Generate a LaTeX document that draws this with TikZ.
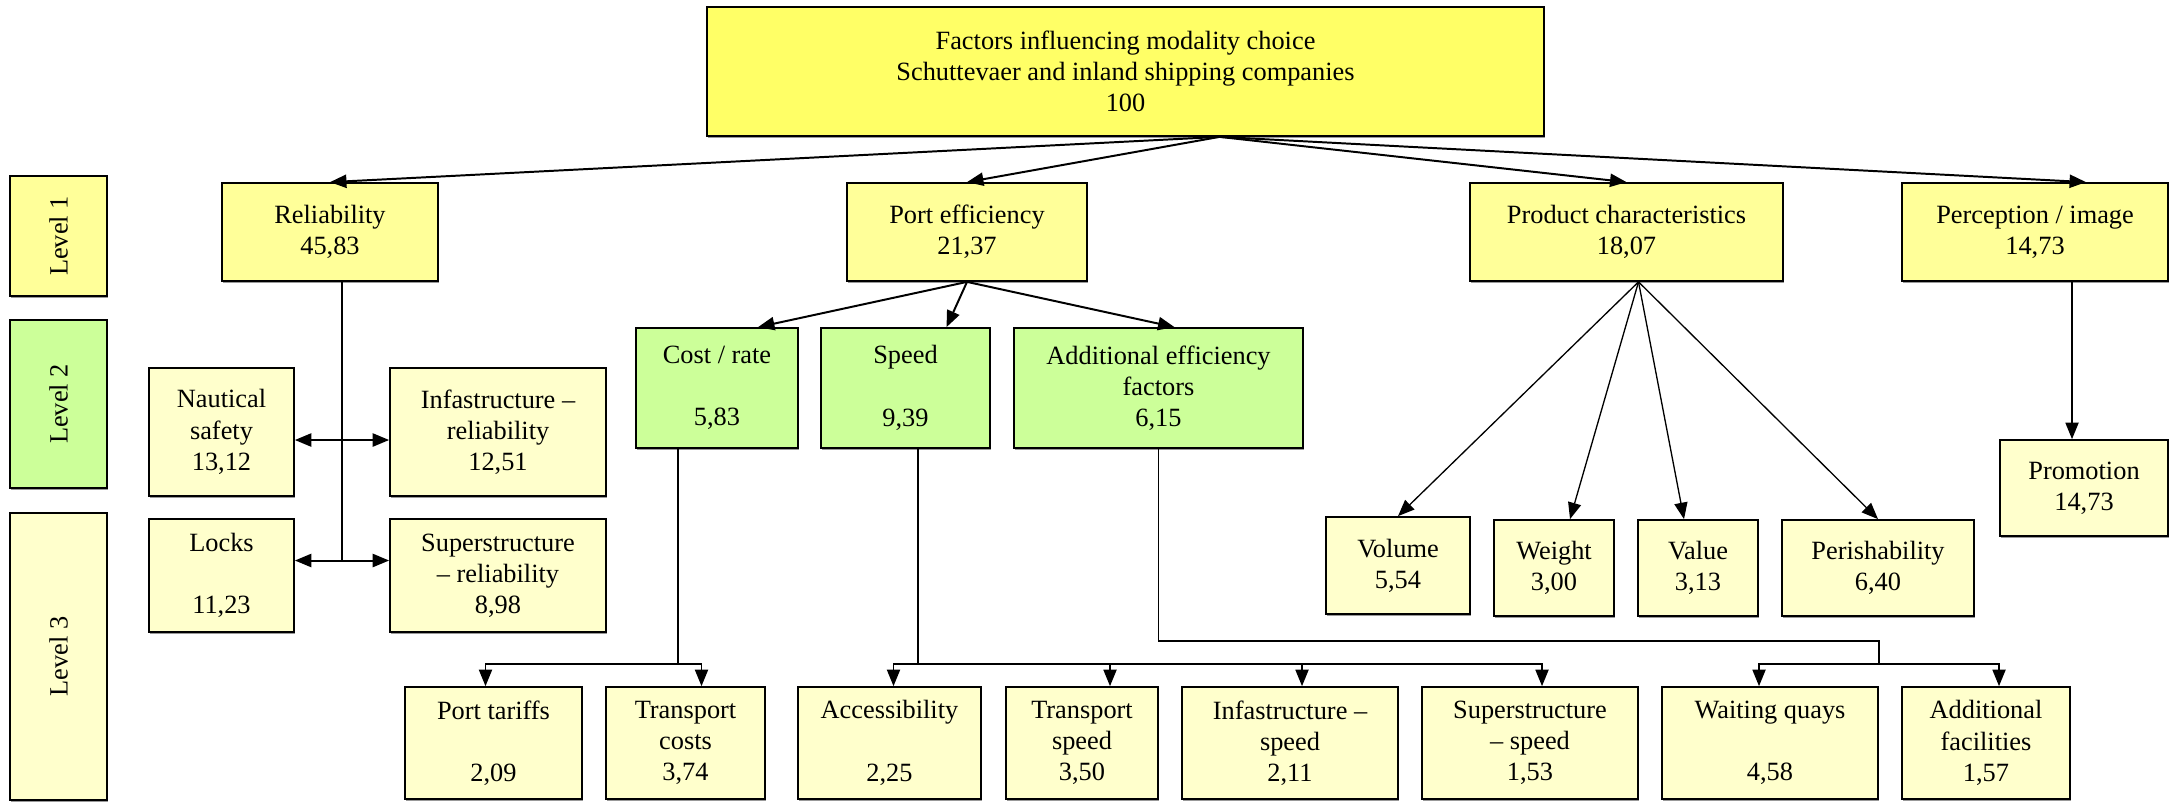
\documentclass[tikz,border=0pt]{standalone}
\usepackage{fontspec}
\setmainfont{Liberation Serif}
\usetikzlibrary{positioning,arrows.meta,calc,shadows}

\definecolor{topyellow}{HTML}{FFFF66}
\definecolor{lvonecol}{HTML}{FFFF99}
\definecolor{lvtwocol}{HTML}{CCFF99}
\definecolor{lvthreecol}{HTML}{FFFFCC}

\begin{document}
\begin{tikzpicture}[
  x=0.016cm, y=-0.016cm,
  font=\fontsize{12}{14.2}\selectfont,
  % Boxes with a thin grey shadow, sized in pixel units
  factor/.style={rectangle, draw, line width=0.8pt, align=center,
    inner sep=2pt,
    general shadow={fill=black!40, shadow xshift=0.6pt, shadow yshift=-0.8pt}},
  boxsize/.style 2 args={minimum width=#1*0.016cm, minimum height=#2*0.016cm},
  topfactor/.style={factor, fill=topyellow},
  lvone/.style={factor, fill=lvonecol},
  lvtwo/.style={factor, fill=lvtwocol},
  lvthree/.style={factor, fill=lvthreecol},
  % Rotated level labels on the left
  levelbox/.style={factor, rotate=90},
  % Filled triangle heads
  >={Triangle[length=7.5pt, width=6pt]},
  mainarrow/.style={draw, line width=0.9pt},
  treeline/.style={draw, line width=0.6pt},
]
  \useasboundingbox (0,0) rectangle (2172,802);

  % === Level labels ===
  \node[levelbox, fill=lvonecol, boxsize={120}{97}] (levone) at (58.5,236) {Level 1};
  \node[levelbox, fill=lvtwocol, boxsize={168}{97}] (levtwo) at (58.5,404) {Level 2};
  \node[levelbox, fill=lvthreecol, boxsize={287}{97}] (levthree) at (58.5,656.5) {Level 3};

  % === Goal ===
  \node[topfactor, boxsize={837}{129}] (goal) at (1125.5,71.5)
    {Factors influencing modality choice\\Schuttevaer and inland shipping companies\\100};

  % === Level 1 ===
  \node[lvone, boxsize={216}{98}] (rel) at (330,232) {Reliability\\45,83};
  \node[lvone, boxsize={240}{98}] (port) at (967,232) {Port efficiency\\21,37};
  \node[lvone, boxsize={313}{98}] (prod) at (1626.5,232) {Product characteristics\\18,07};
  \node[lvone, boxsize={266}{98}] (perc) at (2035,232) {Perception / image\\14,73};

  % === Level 2 ===
  \node[lvtwo, boxsize={162}{120}] (cost) at (717,388) {Cost / rate\\~\\5,83};
  \node[lvtwo, boxsize={169}{120}] (speed) at (905.5,388) {Speed\\~\\9,39};
  \node[lvtwo, boxsize={289}{120}] (addeff) at (1158.5,388) {Additional efficiency\\factors\\6,15};

  % === Reliability factors ===
  \node[lvthree, boxsize={145}{128}] (naut) at (221.5,432) {Nautical\\safety\\13,12};
  \node[lvthree, boxsize={216}{128}] (infrel) at (498,432) {Infastructure --\\reliability\\12,51};
  \node[lvthree, boxsize={145}{113}] (locks) at (221.5,575.5) {Locks\\~\\11,23};
  \node[lvthree, boxsize={216}{113}] (suprel) at (498,575.5) {Superstructure\\-- reliability\\8,98};

  % === Level 3: port efficiency ===
  \node[lvthree, boxsize={177}{112}] (tariffs) at (493.5,743) {Port tariffs\\~\\2,09};
  \node[lvthree, boxsize={159}{112}] (tcosts) at (685.5,743) {Transport\\costs\\3,74};
  \node[lvthree, boxsize={183}{112}] (access) at (889.5,743) {Accessibility\\~\\2,25};
  \node[lvthree, boxsize={152}{112}] (tspeed) at (1082,743) {Transport\\speed\\3,50};
  \node[lvthree, boxsize={216}{112}] (infspeed) at (1290,743) {Infastructure --\\speed\\2,11};
  \node[lvthree, boxsize={216}{112}] (supspeed) at (1530,743) {Superstructure\\-- speed\\1,53};
  \node[lvthree, boxsize={216}{112}] (quays) at (1770,743) {Waiting quays\\~\\4,58};
  \node[lvthree, boxsize={168}{112}] (facil) at (1986,743) {Additional\\facilities\\1,57};

  % === Product characteristics ===
  \node[lvthree, boxsize={144}{97}] (volume) at (1398,565.5) {Volume\\5,54};
  \node[lvthree, boxsize={120}{96}] (weight) at (1554,568) {Weight\\3,00};
  \node[lvthree, boxsize={120}{96}] (value) at (1698,568) {Value\\3,13};
  \node[lvthree, boxsize={192}{96}] (perish) at (1878,568) {Perishability\\6,40};

  % === Perception ===
  \node[lvthree, boxsize={168}{96}] (promo) at (2084,488) {Promotion\\14,73};

  % === Edges: goal -> level 1 ===
  \coordinate (goalfoot) at ($(goal.south)+(94,0)$);
  \draw[mainarrow,->] (goalfoot) -- (rel.north);
  \draw[mainarrow,->] (goalfoot) -- (port.north);
  \draw[mainarrow,->] (goalfoot) -- (prod.north);
  \draw[mainarrow,->] (goalfoot) -- ($(perc.north)+(51,0)$);

  % === Edges: port efficiency -> level 2 ===
  \draw[mainarrow,->] (port.south) -- ($(cost.north)+(41,0)$);
  \draw[mainarrow,->] (port.south) -- ($(speed.north)+(41,0)$);
  \draw[mainarrow,->] (port.south) -- ($(addeff.north)+(16,0)$);

  % === Edges: reliability ===
  \coordinate (relfoot) at ($(rel.south)+(12,0)$);
  \coordinate (lockrow) at ($(locks.east)+(0,-15)$);
  \draw[treeline] (relfoot) -- (relfoot |- lockrow);
  \draw[mainarrow,<->] ($(naut.east)+(0,8)$) -- ($(infrel.west)+(0,8)$);
  \draw[mainarrow,<->] (lockrow) -- (lockrow -| suprel.west);

  % === Edges: cost / rate ===
  \coordinate (costfork) at (678,664);
  \draw[treeline] (cost.south -| costfork) -- (costfork);
  \draw[treeline,->] (costfork) -| ($(tariffs.north)+(-8,0)$);
  \draw[treeline,->] (costfork) -| ($(tcosts.north)+(16,0)$);

  % === Edges: speed ===
  \coordinate (speedfork) at (918,664);
  \draw[treeline] (speed.south -| speedfork) -- (speedfork);
  \draw[treeline,->] (speedfork) -| ($(access.north)+(4,0)$);
  \draw[treeline,->] (speedfork) -| ($(tspeed.north)+(28,0)$);
  \draw[treeline,->] (speedfork) -| ($(infspeed.north)+(12,0)$);
  \draw[treeline,->] (speedfork) -| ($(supspeed.north)+(12,0)$);

  % === Edges: additional efficiency factors ===
  \coordinate (efffork) at (1879,664);
  \draw[treeline] (addeff.south) -- ++(0,192) -| (efffork);
  \draw[treeline,->] (efffork) -| ($(quays.north)+(-11,0)$);
  \draw[treeline,->] (efffork) -| ($(facil.north)+(13,0)$);

  % === Edges: product characteristics ===
  \coordinate (prodfoot) at ($(prod.south)+(12,0)$);
  \draw[treeline,->] (prodfoot) -- (volume.north);
  \draw[treeline,->] (prodfoot) -- ($(weight.north)+(16,0)$);
  \draw[treeline,->] (prodfoot) -- ($(value.north)+(-14,0)$);
  \draw[treeline,->] (prodfoot) -- (perish.north);

  % === Edges: perception ===
  \draw[treeline,->] ($(perc.south)+(37,0)$) -- ($(promo.north)+(-12,0)$);
\end{tikzpicture}
\end{document}
